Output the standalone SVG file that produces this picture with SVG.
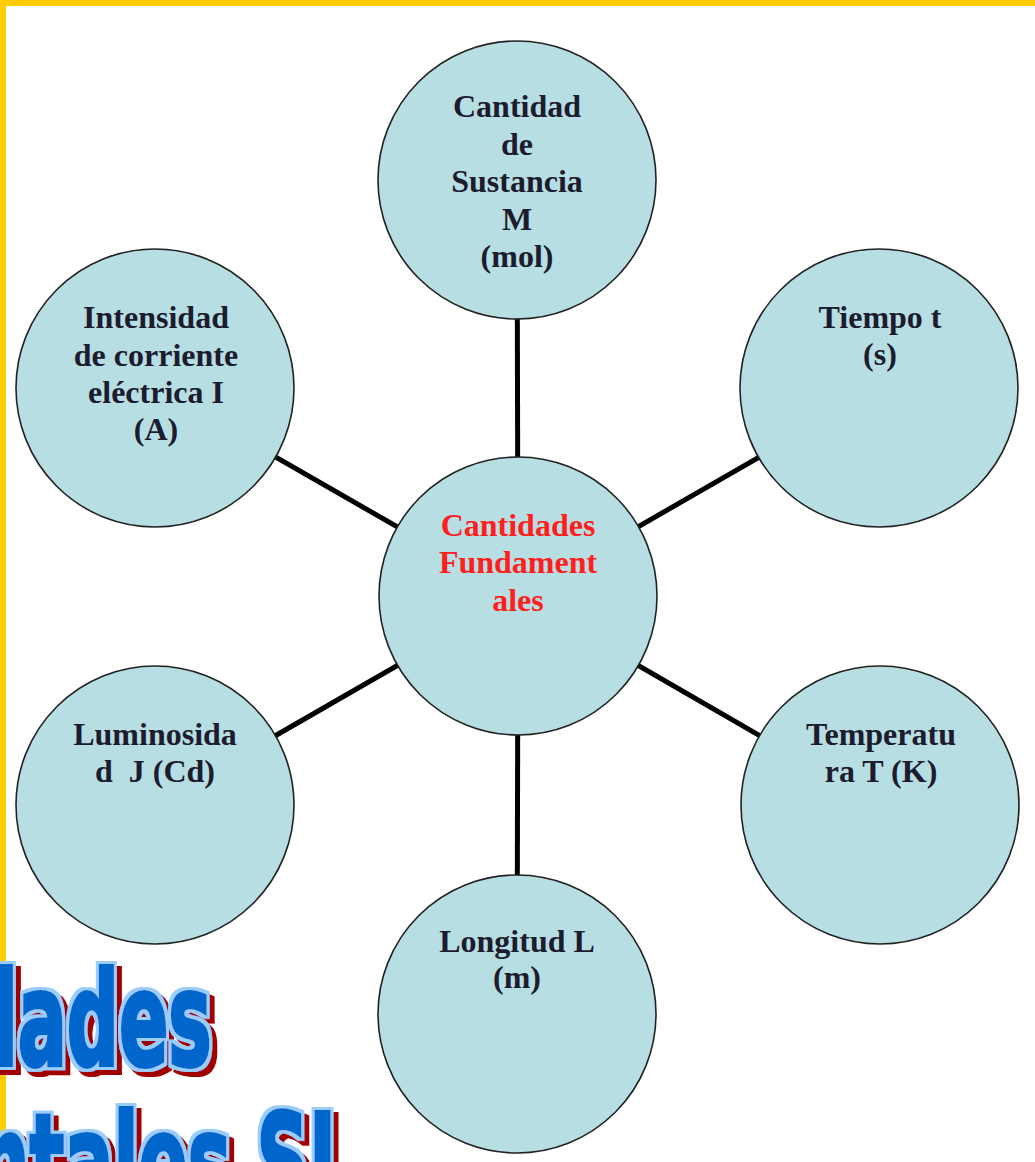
<svg xmlns="http://www.w3.org/2000/svg" width="1035" height="1162" viewBox="0 0 1035 1162">
<style>
.node{fill:#b7dee3;stroke:#222;stroke-width:1.6}
.lbl{font-family:"Liberation Serif","Times New Roman",serif;font-weight:bold;font-size:32px;fill:#1c1c2e;text-anchor:middle}
.red{fill:#ff1f1f}
.conn{stroke:#000;stroke-width:5;fill:none}
.title{font-family:"DejaVu Sans","Liberation Sans",sans-serif;font-weight:bold;font-size:130px;text-anchor:end;fill:#0066cc;stroke:#0066cc;stroke-width:4;filter:url(#wordart)}
</style>
<defs>
<filter id="wordart" x="-10%" y="-20%" width="130%" height="150%">
<feMorphology in="SourceAlpha" operator="dilate" radius="5.5 3" result="big"/>
<feFlood flood-color="#99ccff" result="lb"/>
<feComposite in="lb" in2="big" operator="in" result="outline"/>
<feOffset in="big" dx="9" dy="5" result="sh"/>
<feFlood flood-color="#a00000" result="rd"/>
<feComposite in="rd" in2="sh" operator="in" result="shadow"/>
<feMerge><feMergeNode in="shadow"/><feMergeNode in="outline"/><feMergeNode in="SourceGraphic"/></feMerge>
</filter>
</defs>
<rect x="0" y="0" width="1035" height="1162" fill="#ffffff"/>
<rect x="0" y="0" width="1035" height="6" fill="#ffcc00"/>
<rect x="0" y="0" width="6" height="1162" fill="#ffcc00"/>

<g id="connectors">
<line class="conn" x1="518" y1="596" x2="517" y2="180"/>
<line class="conn" x1="518" y1="596" x2="879" y2="388"/>
<line class="conn" x1="518" y1="596" x2="155" y2="388"/>
<line class="conn" x1="518" y1="596" x2="155" y2="805"/>
<line class="conn" x1="518" y1="596" x2="880" y2="805"/>
<line class="conn" x1="518" y1="596" x2="517" y2="1014"/>
</g>

<g id="node-sustancia">
<circle class="node" cx="517" cy="180" r="139"/>
<text class="lbl" x="517" y="117">Cantidad</text>
<text class="lbl" x="517" y="155">de</text>
<text class="lbl" x="517" y="192">Sustancia</text>
<text class="lbl" x="517" y="230">M</text>
<text class="lbl" x="517" y="267">(mol)</text>
</g>

<g id="node-center">
<circle class="node" cx="518" cy="596" r="139"/>
<text class="lbl red" x="518" y="536">Cantidades</text>
<text class="lbl red" x="518" y="573">Fundament</text>
<text class="lbl red" x="518" y="611">ales</text>
</g>

<g id="node-tiempo">
<circle class="node" cx="879" cy="388" r="139"/>
<text class="lbl" x="880" y="328">Tiempo t</text>
<text class="lbl" x="880" y="365">(s)</text>
</g>

<g id="node-intensidad">
<circle class="node" cx="155" cy="388" r="139"/>
<text class="lbl" x="156" y="328">Intensidad</text>
<text class="lbl" x="156" y="366">de corriente</text>
<text class="lbl" x="156" y="403">eléctrica I</text>
<text class="lbl" x="156" y="440">(A)</text>
</g>

<g id="node-temperatura">
<circle class="node" cx="880" cy="805" r="139"/>
<text class="lbl" x="881" y="745">Temperatu</text>
<text class="lbl" x="881" y="782">ra T (K)</text>
</g>

<g id="node-luminosidad">
<circle class="node" cx="155" cy="805" r="139"/>
<text class="lbl" x="155" y="745">Luminosida</text>
<text class="lbl" x="155" y="782" xml:space="preserve">d  J (Cd)</text>
</g>

<g id="node-longitud">
<circle class="node" cx="517" cy="1014" r="139"/>
<text class="lbl" x="517" y="952">Longitud L</text>
<text class="lbl" x="517" y="988">(m)</text>
</g>

<g id="title" transform="scale(0.56,1)">
<text class="title" x="378" y="1065">Cantidades</text>
<text class="title" x="600" y="1207">Fundamentales SI</text>
</g>
</svg>
